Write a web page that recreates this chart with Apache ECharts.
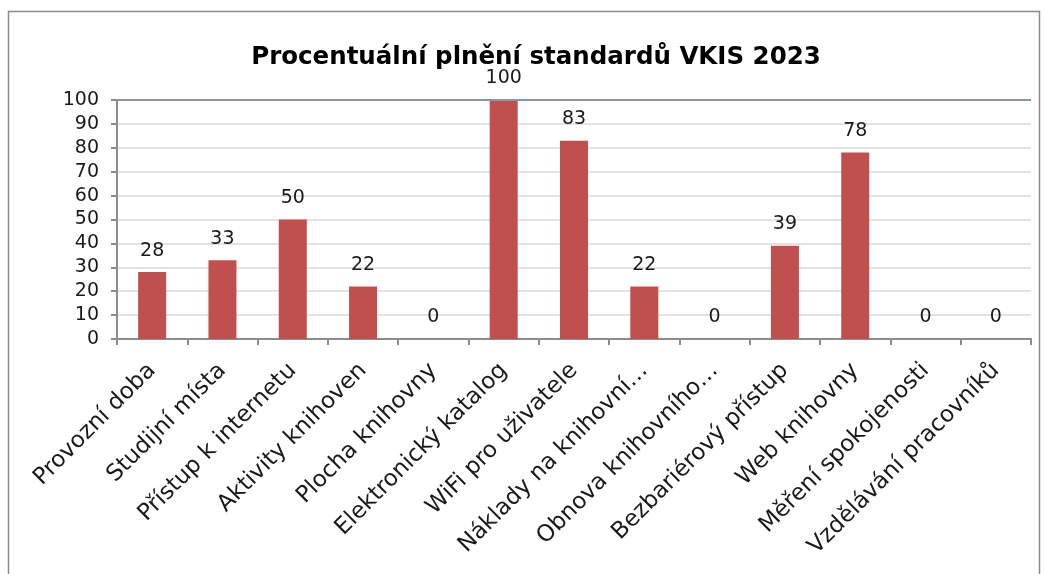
<!DOCTYPE html>
<html>
<head>
<meta charset="utf-8">
<script src="https://cdn.jsdelivr.net/npm/echarts@6/dist/echarts.min.js"></script>
<style>
html,body{margin:0;padding:0;background:#fff;}
#chart{width:1046px;height:574px;}
</style>
</head>
<body>
<div id="chart"></div>
<script>
const titleText = "Procentuální plnění standardů VKIS 2023";
const categories = [
  "Provozní doba",
  "Studijní místa",
  "Přístup k internetu",
  "Aktivity knihoven",
  "Plocha knihovny",
  "Elektronický katalog",
  "WiFi pro uživatele",
  "Náklady na knihovní…",
  "Obnova knihovního…",
  "Bezbariérový přístup",
  "Web knihovny",
  "Měření spokojenosti",
  "Vzdělávání pracovníků"
];
const values = [28, 33, 50, 22, 0, 100, 83, 22, 0, 39, 78, 0, 0];
const yTicks = [0, 10, 20, 30, 40, 50, 60, 70, 80, 90, 100];

const FONT = "DejaVu Sans";
const chart = echarts.init(document.getElementById('chart'), null, {renderer: 'canvas'});
chart.setOption({
  animation: false,
  backgroundColor: '#ffffff',
  title: {
    text: titleText,
    left: 531,
    top: 40,
    textAlign: 'center',
    textStyle: {fontFamily: FONT, fontSize: 24.5, fontWeight: 'bold', color: '#000'}
  },
  graphic: [{
    type: 'rect',
    shape: {x: 8.5, y: 11.5, width: 1031, height: 600},
    style: {fill: 'none', stroke: '#8c8c8c', lineWidth: 1.5},
    silent: true, z: -1
  }],
  grid: {left: 117, right: 15, top: 100, bottom: 235, containLabel: false},
  xAxis: {
    type: 'category',
    data: categories,
    boundaryGap: true,
    axisLine: {lineStyle: {color: '#8c8c8c', width: 2}},
    axisTick: {show: true, interval: 0, length: 6, lineStyle: {color: '#8c8c8c', width: 2}},
    axisLabel: {
      interval: 0, rotate: 45, margin: 28,
      fontFamily: FONT, fontSize: 23, color: '#1a1a1a'
    }
  },
  yAxis: {
    type: 'value',
    min: 0, max: 100, interval: 10,
    axisLine: {show: true, lineStyle: {color: '#8c8c8c', width: 2}},
    axisTick: {show: true, length: 6, lineStyle: {color: '#8c8c8c', width: 2}},
    axisLabel: {
      margin: 18, fontFamily: FONT, fontSize: 19, color: '#1a1a1a',
      customValues: yTicks,
      formatter: v => yTicks.includes(v) ? String(v) : ''
    },
    splitLine: {show: true, lineStyle: {color: '#e3e3e3', width: 2}}
  },
  series: [{
    type: 'bar',
    data: values,
    barWidth: 28,
    itemStyle: {color: '#C0504D'},
    label: {
      show: true, position: 'top', distance: 12,
      fontFamily: FONT, fontSize: 19, color: '#1a1a1a'
    }
  }, {
    type: 'line',
    data: [],
    markLine: {
      silent: true, symbol: 'none', label: {show: false},
      lineStyle: {color: '#8a95a8', width: 2, type: 'solid'},
      data: [{yAxis: 100}]
    }
  }]
});
</script>
</body>
</html>
